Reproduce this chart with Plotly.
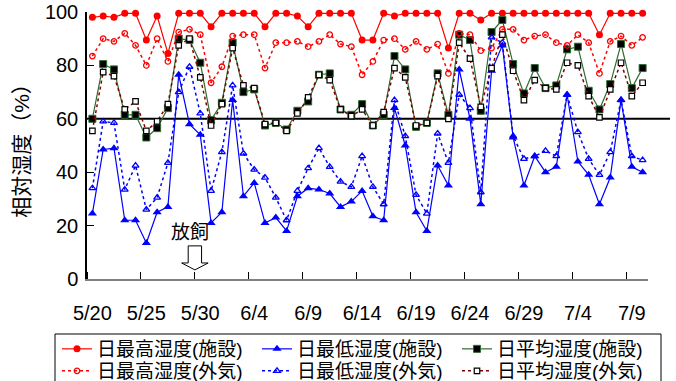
import plotly.graph_objects as go

# Daily dates, 5/20 - 7/10
dates = (
    [f"5/{d}" for d in range(20, 32)]
    + [f"6/{d}" for d in range(1, 31)]
    + [f"7/{d}" for d in range(1, 11)]
)

# Relative humidity (%) - facility (施設)
max_fac = [98, 98.5, 98, 99.5, 99.5, 89.5, 98.5, 84.5, 99.5, 99.5,
           99.5, 94.5, 99.5, 99.5, 99.5, 99.5, 94.5, 99.5, 99.5, 98.5,
           94.5, 99.5, 99.5, 99.5, 99.5, 89.5, 89.5, 99.5, 98.5, 99.5,
           99.5, 99.5, 99.5, 86.5, 99.5, 99.5, 97, 99.5, 99.5, 99.5,
           99.5, 99.5, 99.5, 99.5, 99.5, 99.5, 99.5, 91.5, 99.5, 99.5,
           99.5, 99.5]
min_fac = [24.5, 48.5, 49, 22, 22, 13.5, 25, 27, 76.5, 58,
           54, 21, 25, 67, 31, 36, 21, 23, 18, 31,
           34, 33.5, 32, 27, 29, 33, 23.5, 22, 64, 50,
           25, 18, 42.5, 35, 78.5, 60, 28, 78, 87.5, 53,
           35, 46, 40, 42, 69, 44, 39, 28, 38, 67,
           42, 40]
avg_fac = [60, 80.5, 78.5, 61.5, 61.5, 53, 56.5, 64, 90, 89.5,
           81, 59.5, 66, 88.5, 70, 71, 57.5, 58.5, 56, 63,
           66.5, 76.5, 77, 63.5, 61.5, 65.5, 57.5, 61.5, 83.5, 78.5,
           57, 58.5, 77, 61.5, 91.5, 89.5, 63, 92.5, 97, 80.5,
           69.5, 79, 71.5, 72.5, 86, 87, 70.5, 63.5, 73, 88,
           71.5, 79]

# Relative humidity (%) - outside (外気)
max_out = [83.5, 90, 89, 92, 87.5, 80, 90, 81.5, 92.5, 93.5,
           91.5, 73.5, 79.5, 91, 91.5, 91.5, 79, 88.5, 88.5, 89,
           87, 89, 91.5, 88, 87, 76.5, 81.5, 89.5, 90, 86,
           89, 86, 88, 77, 92, 91.5, 85.5, 86.5, 93.5, 93.5,
           89.5, 91, 91.5, 88.5, 87.5, 91.5, 88.5, 77, 89, 91,
           87.5, 90.5]
min_out = [34, 59, 58.5, 33.5, 42.5, 26, 30.5, 43.5, 70, 79.5,
           62, 33, 47.5, 72.5, 47, 41, 38, 30.5, 22, 33,
           41.5, 49, 42, 36.5, 34.5, 46, 34.5, 28, 67, 53.5,
           31.5, 24.5, 54.5, 43.5, 69, 64, 32.5, 90.5, 88.5, 53.5,
           45, 46, 48, 46, 69, 55, 45, 39, 47.5, 67,
           46, 44.5]
avg_out = [55.5, 77.5, 76, 63.5, 66.5, 55.5, 59, 65.5, 87.5, 90,
           75.5, 57.5, 65.5, 86.5, 72.5, 71.5, 58, 58.5, 55.5, 62,
           68, 76.5, 74.5, 63.5, 61, 63.5, 57.5, 62.5, 79, 75.5,
           57.5, 58.5, 76, 60, 88.5, 82.5, 64.5, 79, 91.5, 78,
           67, 74.5, 71.5, 71, 81, 80, 68.5, 60.5, 71, 81,
           68.5, 73.5]

threshold = 60
release_day = 9.5  # boundary between 5/29 and 5/30

x = list(range(len(dates)))

# (name, values, line colour, dash, line width, marker, legend row)
series = [
    ("日最高湿度(施設)", max_fac, "#FF0000", "solid", 1.2,
     dict(symbol="circle", size=7, color="#FF0000"), "legend"),
    ("日最低湿度(施設)", min_fac, "#0000FF", "solid", 1.2,
     dict(symbol="triangle-up", size=8, color="#0000FF"), "legend"),
    ("日平均湿度(施設)", avg_fac, "#2E6B2E", "solid", 1.2,
     dict(symbol="square", size=7, color="#000000",
          line=dict(color="#2E6B2E", width=1)), "legend"),
    ("日最高湿度(外気)", max_out, "#FF0000", "dot", 1.5,
     dict(symbol="circle-open", size=5.5, color="#FF0000",
          line=dict(width=1.3)), "legend2"),
    ("日最低湿度(外気)", min_out, "#0000FF", "dot", 1.5,
     dict(symbol="triangle-up-open", size=6, color="#0000FF",
          line=dict(width=1.3)), "legend2"),
    ("日平均湿度(外気)", avg_out, "#800000", "dot", 1.5,
     dict(symbol="square", size=5.5, color="#FFFFFF",
          line=dict(color="#000000", width=1.2)), "legend2"),
]

fig = go.Figure()
for name, vals, color, dash, width, marker, leg in series:
    fig.add_trace(go.Scatter(
        x=x, y=vals, name=name, mode="lines+markers",
        line=dict(color=color, dash=dash, width=width),
        marker=marker, cliponaxis=False, legend=leg,
    ))

plot_l, plot_r, plot_t, plot_b = 87, 648, 12, 279
plot_w, plot_h = plot_r - plot_l, plot_b - plot_t


def px_x(px):
    return (px - plot_l) / plot_w


def px_y(py):
    return (plot_b - py) / plot_h


# 60% reference line
fig.add_shape(type="line", xref="paper", yref="y", x0=0, x1=px_x(670),
              y0=threshold, y1=threshold, line=dict(color="black", width=2),
              layer="below")

# legend frame (runs past the bottom edge)
fig.add_shape(type="rect", xref="paper", yref="paper",
              x0=px_x(55), x1=px_x(661), y0=px_y(334), y1=px_y(400),
              line=dict(color="black", width=1), fillcolor="white",
              layer="below")

# hollow down arrow marking the release date
shaft_hw, head_hw = 0.62, 1.23
y_top, y_head, y_tip = 12.4, 6.0, 3.4
cx = release_day
arrow_path = (
    f"M {cx - shaft_hw},{y_top} L {cx + shaft_hw},{y_top} "
    f"L {cx + shaft_hw},{y_head} L {cx + head_hw},{y_head} "
    f"L {cx},{y_tip} L {cx - head_hw},{y_head} "
    f"L {cx - shaft_hw},{y_head} Z"
)
fig.add_shape(type="path", xref="x", yref="y", path=arrow_path,
              line=dict(color="black", width=1), fillcolor="white")
fig.add_annotation(x=release_day - 0.45, y=17.3, xref="x", yref="y",
                   text="放飼", showarrow=False,
                   font=dict(size=19, color="black"))

legend_common = dict(
    orientation="h", xref="paper", yref="paper",
    xanchor="left", yanchor="top",
    borderwidth=0, bgcolor="rgba(0,0,0,0)",
    font=dict(size=19), entrywidth=155, itemwidth=30,
    traceorder="normal", tracegroupgap=0,
)

fig.update_layout(
    width=676, height=381,
    margin=dict(l=plot_l, r=676 - plot_r, t=plot_t, b=381 - plot_b,
                autoexpand=False),
    paper_bgcolor="white", plot_bgcolor="white",
    font=dict(family="Liberation Sans, Arial, Noto Sans CJK JP", size=19,
              color="black"),
    showlegend=True,
    legend=dict(x=px_x(57), y=px_y(330), **legend_common),
    legend2=dict(x=px_x(57), y=px_y(352), **legend_common),
)

fig.update_xaxes(
    range=[-0.5, len(dates) - 0.5],
    tickmode="array", tickvals=x[::5], ticktext=dates[::5],
    ticks="", showline=True, linecolor="#808080", linewidth=2,
    showgrid=False, zeroline=False, ticklabelstandoff=15,
    tickfont=dict(size=20),
    minor=dict(ticks="inside", tickmode="linear", tick0=-0.5, dtick=5,
               ticklen=7, tickcolor="black", tickwidth=1, showgrid=False),
)
fig.update_yaxes(
    range=[0, 100], tickvals=list(range(0, 101, 20)),
    ticks="inside", ticklen=7, tickcolor="black",
    showline=True, linecolor="black", linewidth=1.5,
    showgrid=False, zeroline=False, ticklabelstandoff=3,
    tickfont=dict(size=20),
    title=dict(text="相対湿度（%）", standoff=10, font=dict(size=21)),
)

fig.write_html("out.html")
